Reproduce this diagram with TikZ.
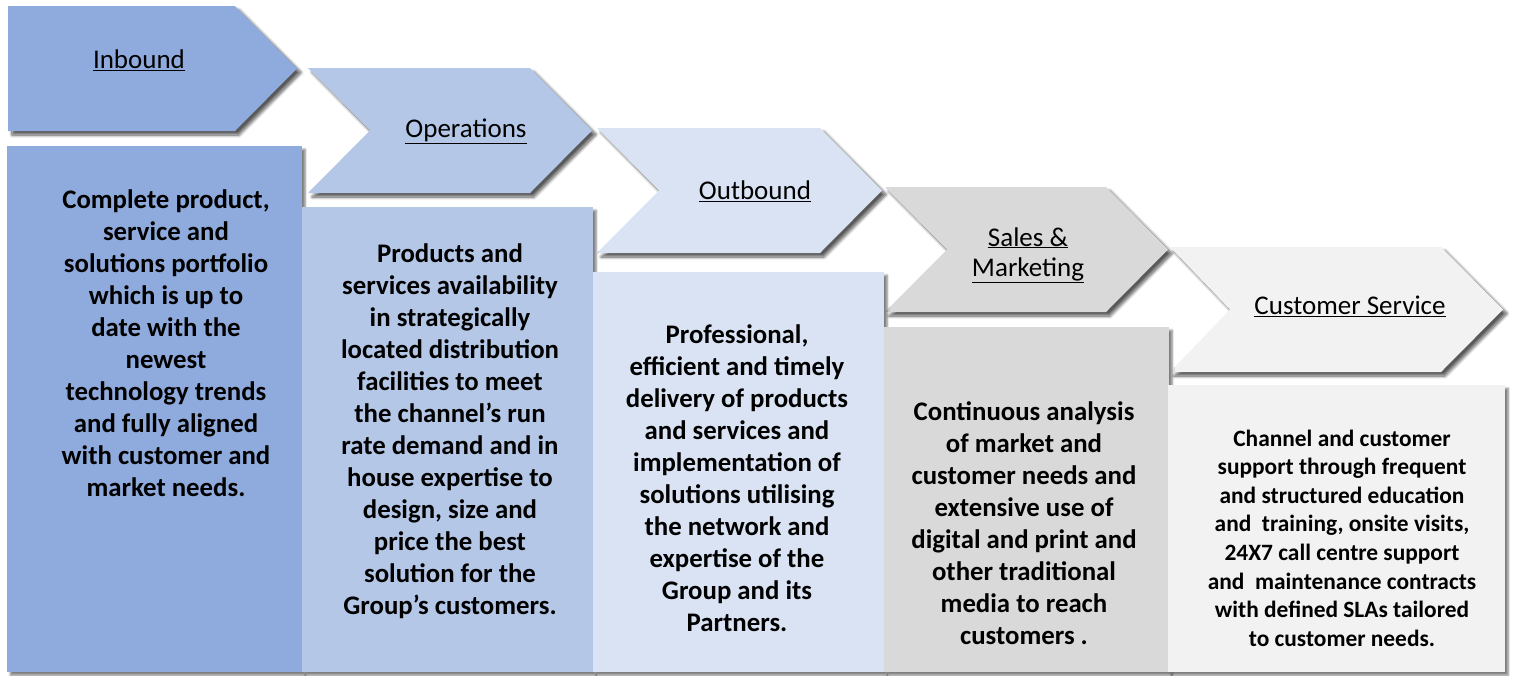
\documentclass[tikz,border=0pt]{standalone}
\usepackage{fontspec}
\setmainfont{Carlito}
\usetikzlibrary{positioning,shadows,shadows.blur}
\definecolor{cinb}{HTML}{8FAADC}
\definecolor{cops}{HTML}{B4C7E7}
\definecolor{cout}{HTML}{DAE3F3}
\definecolor{csal}{HTML}{D9D9D9}
\definecolor{ccus}{HTML}{F2F2F2}
\begin{document}
\begin{tikzpicture}[x=1pt, y=-1pt,
  chev/.style={fill=#1, blur shadow={shadow xshift=4pt, shadow yshift=-4pt, shadow blur radius=3pt, shadow blur steps=8, shadow opacity=65}},
  card/.style={rectangle, fill=#1, draw=none, anchor=north west, inner sep=0pt, blur shadow={shadow xshift=3pt, shadow yshift=-3pt, shadow blur radius=2pt, shadow blur steps=6, shadow opacity=50}},
  head/.style={font=\fontsize{27}{30}\selectfont, align=center},
  body/.style={font=\fontsize{26.8}{32}\selectfont\bfseries, align=center},
  small body/.style={font=\fontsize{23.4}{28.6}\selectfont\bfseries, align=center}]
\useasboundingbox (0,0) rectangle (1515,675);
% chevrons
\fill[chev=cinb] (8,6) -- (235,6) -- (297,68.5) -- (235,131) -- (8,131) -- cycle;
\fill[chev=cops] (308,68) -- (530,68) -- (592,130.5) -- (530,193) -- (308,193) -- (370,130.5) -- cycle;
\fill[chev=cout] (597,128) -- (820,128) -- (882,190.5) -- (820,253) -- (597,253) -- (659,190.5) -- cycle;
\fill[chev=csal] (885,187) -- (1106,187) -- (1168,249.5) -- (1106,312) -- (885,312) -- (947,249.5) -- cycle;
\fill[chev=ccus] (1170,247) -- (1441,247) -- (1503,309.5) -- (1441,372) -- (1170,372) -- (1230,309.5) -- cycle;
\node[head] (hinb) at (139,60) {\underline{Inbound}};
\node[head] (hops) at (466,131) {\underline{Operations}};
\node[head] (hout) at (755,191) {\underline{Outbound}};
\node[head] (hsal) at (1028,255) {\underline{Sales \&}\\\underline{Marketing}};
\node[head] (hcus) at (1350,306) {\underline{Customer Service}};
% boxes
\node[card=cinb, minimum width=295, minimum height=526] (binb) at (7,146) {};
\node[card=cops, minimum width=291, minimum height=465] (bops) at (302,207) {};
\node[card=cout, minimum width=291, minimum height=400] (bout) at (593,272) {};
\node[card=csal, minimum width=285, minimum height=345] (bsal) at (884,327) {};
\node[card=ccus, minimum width=337, minimum height=287] (bcus) at (1168,385) {};
\node[body] (tinb) at (166,343) {Complete product,\\service and\\solutions portfolio\\which is up to\\date with the\\newest\\technology trends\\and fully aligned\\with customer and\\market needs.};
\node[body] (tops) at (450,431) {Products and\\services availability\\in strategically\\located distribution\\facilities to meet\\the channel’s run\\rate demand and in\\house expertise to\\design, size and\\price the best\\solution for the\\Group’s customers.};
\node[body] (tout) at (737,478) {Professional,\\efficient and timely\\delivery of products\\and services and\\implementation of\\solutions utilising\\the network and\\expertise of the\\Group and its\\Partners.};
\node[body] (tsal) at (1024,523) {Continuous analysis\\of market and\\customer needs and\\extensive use of\\digital and print and\\other traditional\\media to reach\\customers .};
\node[small body] (tcus) at (1342,538) {Channel and customer\\support through frequent\\and structured education\\and\ \ training, onsite visits,\\24X7 call centre support\\and\ \ maintenance contracts\\with defined SLAs tailored\\to customer needs.};
\end{tikzpicture}
\end{document}
